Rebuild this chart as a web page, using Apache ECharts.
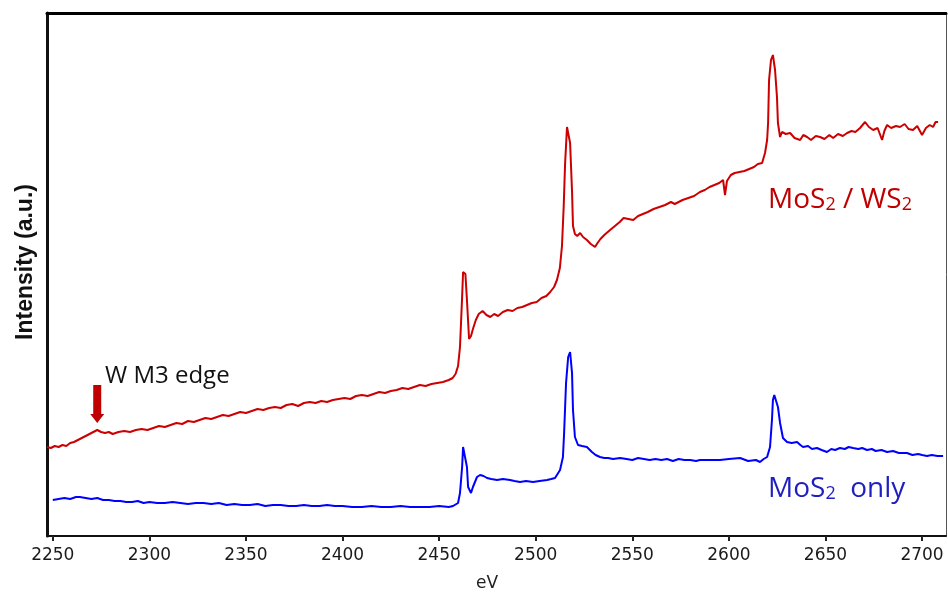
<!DOCTYPE html>
<html>
<head>
<meta charset="utf-8">
<script src="https://cdn.jsdelivr.net/npm/echarts@6/dist/echarts.min.js"></script>
<style>
  html, body { margin: 0; padding: 0; background: #fff; }
  #chart { width: 948px; height: 596px; }
</style>
</head>
<body>
<div id="chart"></div>
<script>
// Photon energy (eV) tick positions on the horizontal axis
const tickValues = [2250, 2300, 2350, 2400, 2450, 2500, 2550, 2600, 2650, 2700];

// MoS2 / WS2 heterostructure spectrum: [energy eV, intensity a.u.]
const heteroSpectrum = [
  [2247,89],[2249,88],[2251,90],[2253,89],[2255,91],[2257,90],[2259,93],[2261,94],[2263,96],[2265,98],
  [2267,100],[2269,102],[2271,104],[2273,106],[2275,104],[2277,103],[2279,104],[2281,102],[2284,104],[2287,105],
  [2290,104],[2293,106],[2296,107],[2299,106],[2302,108],[2305,110],[2308,109],[2311,111],[2314,113],[2317,112],
  [2320,115],[2323,114],[2326,116],[2329,118],[2332,117],[2335,119],[2338,121],[2341,120],[2344,122],[2347,124],
  [2350,123],[2353,125],[2356,127],[2359,126],[2362,128],[2365,129],[2368,128],[2371,131],[2374,132],[2377,130],
  [2380,133],[2383,134],[2386,133],[2389,135],[2392,134],[2395,136],[2398,137],[2401,138],[2404,137],[2407,140],
  [2410,141],[2413,140],[2416,142],[2419,144],[2422,143],[2425,145],[2428,146],[2431,148],[2434,147],[2437,149],
  [2440,151],[2443,150],[2446,152],[2449,153],[2452,154],[2455,156],[2457,158],[2458.5,162],[2459.8,170],[2460.8,189],
  [2461.9,239],[2462.4,264],[2463.1,266],[2463.6,262],[2464.4,236],[2465.5,197],[2466.5,200],[2467.5,207],[2469,216],[2470.5,222],
  [2472.5,225],[2474.5,221],[2476.5,219],[2478.5,222],[2480.5,220],[2483,224],[2485.5,226],[2488,225],[2490.5,228],[2493,229],
  [2495.5,231],[2498,233],[2500.5,234],[2503,238],[2505.5,240],[2507.5,244],[2509.5,249],[2511,256],[2512.5,268],[2513.6,290],
  [2514.5,330],[2515.2,372],[2516.2,409],[2517.2,410],[2517.8,393],[2518.8,345],[2519.3,310],[2520.3,302],[2521.5,300],[2523,303],
  [2524.5,299],[2526.5,296],[2528.5,292],[2530.7,289],[2532,293],[2533.5,297],[2535.5,301],[2538.5,306],[2541,310],[2543.5,314],
  [2545.5,318],[2548,317],[2550.5,316],[2553,320],[2555.5,322],[2558,324],[2561,327],[2564,329],[2567,331],[2570,334],
  [2572,332],[2573,333],[2576,336],[2579,338],[2582,340],[2585,344],[2587.5,346],[2590,349],[2592.5,351],[2595,353],
  [2597,356],[2598,341],[2599,355],[2601,361],[2603,363],[2605.5,364],[2608,365],[2610.5,367],[2613,369],[2615,372],
  [2617.2,373],[2618.7,383],[2619.8,396],[2620.3,413],[2620.8,456],[2621.8,476],[2622.8,481],[2623.9,466],[2624.9,439],[2625.4,413],
  [2626.5,399],[2627.5,404],[2629.5,402],[2631.7,403],[2634,398],[2636.9,396],[2638.5,401],[2640.5,399],[2642.5,396],[2645,400],
  [2647.2,399],[2649.5,397],[2652,401],[2654,398],[2656.5,402],[2659,400],[2661.2,403],[2663.5,405],[2665.5,404],[2667.9,408],
  [2670.5,414],[2672.5,409],[2674.7,406],[2677,408],[2679.3,396],[2680.5,405],[2681.9,411],[2684,408],[2686.5,410],[2688.6,409],
  [2691,412],[2693,407],[2695.3,406],[2697.5,410],[2700,401],[2702,408],[2704,411],[2705.7,409],[2707,414],[2708.3,414]
];

// MoS2-only reference spectrum: [energy eV, intensity a.u.]
const mos2Spectrum = [
  [2250,36],[2253,37],[2256,38],[2259,37],[2262,39],[2264,39],[2267,38],[2270,37],[2273,38],[2276,36],
  [2279,36],[2282,35],[2285,35],[2288,34],[2291,34],[2294,35],[2297,33],[2300,34],[2304,33],[2308,33],
  [2312,34],[2316,33],[2320,32],[2324,33],[2328,33],[2332,32],[2336,33],[2340,31],[2344,32],[2348,31],
  [2352,31],[2356,32],[2360,30],[2364,31],[2368,31],[2372,30],[2376,30],[2380,31],[2384,30],[2388,30],
  [2392,31],[2396,30],[2400,30],[2405,29],[2410,29],[2415,30],[2420,29],[2425,29],[2430,30],[2435,29],
  [2440,29],[2445,29],[2450,30],[2455,29],[2457.2,30],[2459.8,33],[2460.8,43],[2461.9,69],[2462.4,89],[2463.4,88],
  [2464.4,69],[2465,49],[2466.5,43],[2467.5,49],[2469.6,59],[2471.2,61],[2473,60],[2474.8,58],[2477,57],[2480,56],
  [2483,57],[2486.7,56],[2489,55],[2491.9,54],[2495,55],[2498.6,54],[2502,55],[2505.9,56],[2508,57],[2510,58],
  [2512.6,66],[2514.1,79],[2514.7,103],[2515.7,153],[2516.8,179],[2517.8,184],[2518.8,163],[2519.3,126],[2520.3,99],[2521.9,91],
  [2524,90],[2526.5,89],[2529.1,84],[2531,81],[2533.3,79],[2535.5,78],[2537.5,78],[2540,77],[2543.7,78],[2547,77],
  [2550,76],[2553,78],[2556,77],[2559,76],[2562,77],[2565,76],[2568,77],[2571,75],[2574,77],[2577,76],
  [2580,76],[2583,75],[2585,76],[2590,76],[2595.4,76],[2600,77],[2605.8,78],[2610,75],[2614,76],[2616.1,74],
  [2618,77],[2619.8,79],[2621.3,89],[2622.3,116],[2622.8,136],[2623.5,141],[2624.4,143],[2625.4,129],[2626.5,113],[2628,98],
  [2630.1,94],[2632.5,93],[2635.3,94],[2637,91],[2638.4,89],[2641,90],[2643,87],[2645.6,88],[2648,86],[2650.8,84],
  [2653,87],[2655,86],[2657.5,88],[2660,87],[2662,89],[2664.3,88],[2667,87],[2669,88],[2671.5,86],[2674,87],
  [2676,85],[2679,86],[2681.9,84],[2685,85],[2688,83],[2692.2,83],[2695,81],[2698,82],[2700,81],[2702.6,80],
  [2705,81],[2708,80],[2710.9,80]
];

// W M3 absorption edge position marked on the heterostructure curve
const edgeMarker = [2273, 113];

const RED = '#cc0000';
const BLUE = '#0000ff';
const X_MIN = 2247, X_MAX = 2712.4, Y_MIN = 0, Y_MAX = 523;

const chart = echarts.init(document.getElementById('chart'), null, { renderer: 'canvas' });

const axisFont = 'DejaVu Sans';
const noteFont = '"Open Sans", "Noto Sans", sans-serif';

chart.setOption({
  animation: false,
  backgroundColor: '#ffffff',
  grid: { left: 47, right: 2, top: 13, bottom: 60 },
  xAxis: [
    {
      type: 'value', min: X_MIN, max: X_MAX, position: 'bottom',
      axisLine: { show: true, onZero: false, lineStyle: { color: '#111', width: 2 } },
      axisTick: { show: true, length: 5, customValues: tickValues, lineStyle: { color: '#222', width: 2 } },
      axisLabel: {
        customValues: tickValues, fontFamily: axisFont, fontSize: 17, color: '#1a1a1a', margin: 11,
        formatter: function (v) { return String(v); }
      },
      splitLine: { show: false }
    },
    {
      type: 'value', min: X_MIN, max: X_MAX, position: 'top',
      axisLine: { show: true, onZero: false, lineStyle: { color: '#000', width: 3 } },
      axisTick: { show: false }, axisLabel: { show: false }, splitLine: { show: false }
    }
  ],
  yAxis: [
    {
      type: 'value', min: Y_MIN, max: Y_MAX, position: 'left',
      axisLine: { show: true, onZero: false, lineStyle: { color: '#111', width: 3 } },
      axisTick: { show: false }, axisLabel: { show: false }, splitLine: { show: false }
    },
    {
      type: 'value', min: Y_MIN, max: Y_MAX, position: 'right',
      axisLine: { show: true, onZero: false, lineStyle: { color: '#555', width: 1 } },
      axisTick: { show: false }, axisLabel: { show: false }, splitLine: { show: false }
    }
  ],
  series: [
    {
      name: 'MoS2 only', type: 'line', data: mos2Spectrum, showSymbol: false,
      lineStyle: { color: BLUE, width: 2 }, itemStyle: { color: BLUE }
    },
    {
      name: 'MoS2 / WS2', type: 'line', data: heteroSpectrum, showSymbol: false,
      lineStyle: { color: RED, width: 2 }, itemStyle: { color: RED }
    }
  ]
});

// Annotations: arrow at the W M3 edge, curve labels and axis titles
const tip = chart.convertToPixel({ xAxisIndex: 0, yAxisIndex: 0 }, edgeMarker);
const ax = tip[0], ay = tip[1];
chart.setOption({
  graphic: [
    {
      type: 'polygon', z: 100,
      shape: { points: [
        [ax - 4, ay - 38], [ax + 4, ay - 38], [ax + 4, ay - 9], [ax + 7, ay - 9],
        [ax, ay], [ax - 7, ay - 9], [ax - 4, ay - 9]
      ] },
      style: { fill: '#c00000' }
    },
    {
      type: 'text', z: 100, left: 105, top: 364,
      style: { text: 'W M3 edge', font: '24px ' + noteFont, fill: '#111' }
    },
    {
      type: 'text', z: 100, left: 768, top: 186,
      style: {
        text: '{a|MoS}{b|2}{a| / WS}{b|2}',
        rich: {
          a: { fontFamily: noteFont, fontSize: 28, fill: '#c00000', verticalAlign: 'bottom', lineHeight: 34 },
          b: { fontFamily: noteFont, fontSize: 18, fill: '#c00000', verticalAlign: 'bottom', lineHeight: 34 }
        }
      }
    },
    {
      type: 'text', z: 100, left: 768, top: 475,
      style: {
        text: '{a|MoS}{b|2}{a|  only}',
        rich: {
          a: { fontFamily: noteFont, fontSize: 28, fill: '#1f1fbf', verticalAlign: 'bottom', lineHeight: 34 },
          b: { fontFamily: noteFont, fontSize: 18, fill: '#1f1fbf', verticalAlign: 'bottom', lineHeight: 34 }
        }
      }
    },
    {
      type: 'text', z: 100, x: 487, y: 584,
      style: { text: 'eV', font: '17px ' + axisFont, fill: '#222', align: 'center', verticalAlign: 'middle' }
    },
    {
      type: 'text', z: 100, x: 26, y: 262, rotation: Math.PI / 2,
      style: { text: 'Intensity (a.u.)', font: 'bold 23px "Liberation Sans", Arial, sans-serif', fill: '#111', align: 'center', verticalAlign: 'middle' }
    }
  ]
});
</script>
</body>
</html>
